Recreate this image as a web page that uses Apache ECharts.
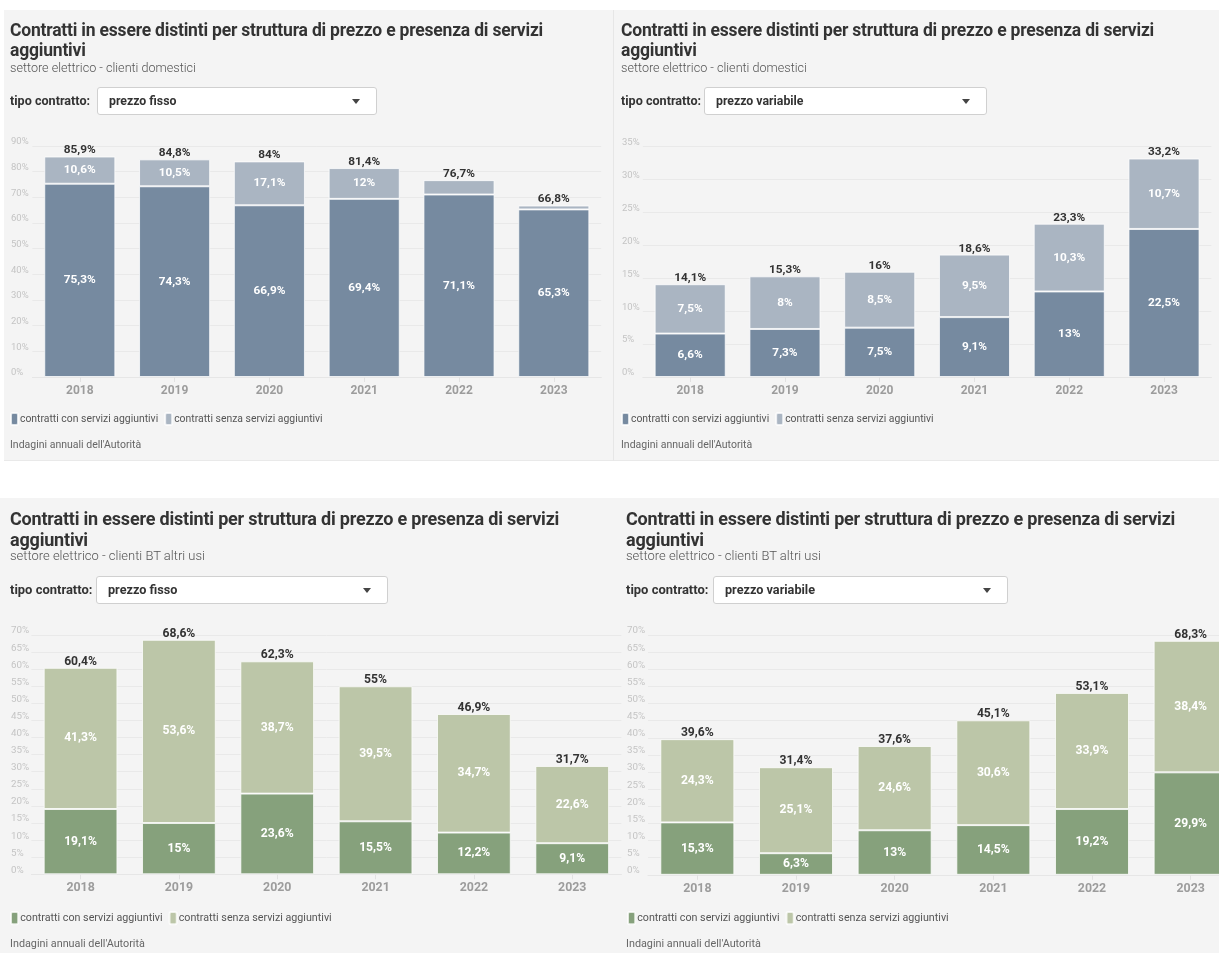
<!DOCTYPE html>
<html lang="it">
<head>
<meta charset="utf-8">
<title>Contratti in essere distinti per struttura di prezzo e presenza di servizi aggiuntivi</title>
<script src="https://cdn.jsdelivr.net/npm/echarts@6/dist/echarts.min.js"></script>
<style>
  html, body { margin: 0; padding: 0; background: #ffffff; }
  body { width: 1219px; height: 953px; overflow: hidden; position: relative;
         font-family: Roboto, "Noto Sans", sans-serif; color: #333; }
  .row-bg { position: absolute; background: #f4f4f4; }
  .panel { position: absolute; background: #f4f4f4; overflow: hidden; }
  .panel .chart { position: absolute; left: 0; top: 0; width: 100%; height: 100%; }
  .title, .sub, .ctrl-lab, .sel, .src { position: absolute; white-space: nowrap; }
  .title { font-weight: 700; color: #333; letter-spacing: -0.2px; }
  .sub { color: #555; font-weight: 300; }
  .ctrl-lab { font-weight: 700; color: #333; }
  .sel { background: #ffffff; border: 1px solid #d0d0d0; border-radius: 3px; box-sizing: border-box;
         font-weight: 700; color: #333; }
  .sel .caret { position: absolute; width: 0; height: 0; border-left: 4px solid transparent;
                border-right: 4px solid transparent; border-top: 5px solid #444; }
  .src { color: #666; }
</style>
</head>
<body>
<div class="row-bg" style="left:0;top:498px;width:1219px;height:455px;"></div>
<div id="panels"></div>
<script>
// Anni di rilevazione
const years = ['2018', '2019', '2020', '2021', '2022', '2023'];

// Clienti domestici - prezzo fisso (% dei contratti)
const domFissoCon   = [75.3, 74.3, 66.9, 69.4, 71.1, 65.3];
const domFissoSenza = [10.6, 10.5, 17.1, 12.0, 5.6, 1.5];

// Clienti domestici - prezzo variabile
const domVarCon   = [6.6, 7.3, 7.5, 9.1, 13.0, 22.5];
const domVarSenza = [7.5, 8.0, 8.5, 9.5, 10.3, 10.7];

// Clienti BT altri usi - prezzo fisso
const btFissoCon   = [19.1, 15.0, 23.6, 15.5, 12.2, 9.1];
const btFissoSenza = [41.3, 53.6, 38.7, 39.5, 34.7, 22.6];

// Clienti BT altri usi - prezzo variabile
const btVarCon   = [15.3, 6.3, 13.0, 14.5, 19.2, 29.9];
const btVarSenza = [24.3, 25.1, 24.6, 30.6, 33.9, 38.4];

const serieNames = ['contratti con servizi aggiuntivi', 'contratti senza servizi aggiuntivi'];
const titleText = 'Contratti in essere distinti per struttura di prezzo e presenza di servizi';
const titleText2 = 'aggiuntivi';
const fonte = "Indagini annuali dell'Autorità";

const blue = ['#768aa0', '#aab5c2'];
const green = ['#86a17c', '#bcc6a8'];

const panels = [
  { x: 4, y: 10, w: 609, h: 450, sub: 'settore elettrico - clienti domestici', tipo: 'prezzo fisso',
    con: domFissoCon, senza: domFissoSenza, max: 90, interval: 10, colors: blue,
    plot: { left: 28.4, top: 136, width: 568.8, height: 231 },
    pad: 6, fs: 1, titleTop: 10, subC: 58, ctrlC: 91, selL: 93, selW: 280, legC: 408, legL: 6, srcC: 435 },
  { x: 614, y: 10, w: 605, h: 450, sub: 'settore elettrico - clienti domestici', tipo: 'prezzo variabile',
    con: domVarCon, senza: domVarSenza, max: 35, interval: 5, colors: blue,
    plot: { left: 28.8, top: 136.7, width: 568.6, height: 230.3 },
    pad: 7, fs: 1, titleTop: 10, subC: 58, ctrlC: 91, selL: 90, selW: 283, legC: 408, legL: 7, srcC: 435 },
  { x: 0, y: 498, w: 622, h: 455, sub: 'settore elettrico - clienti BT altri usi', tipo: 'prezzo fisso',
    con: btFissoCon, senza: btFissoSenza, max: 70, interval: 5, colors: green,
    plot: { left: 31.4, top: 137, width: 590, height: 239.3 },
    pad: 10, fs: 1.03, titleTop: 11, subC: 58, ctrlC: 92, selL: 96, selW: 292, legC: 419, legL: 10, srcC: 446 },
  { x: 616, y: 498, w: 640, h: 455, sub: 'settore elettrico - clienti BT altri usi', tipo: 'prezzo variabile',
    con: btVarCon, senza: btVarSenza, max: 70, interval: 5, colors: green,
    plot: { left: 32, top: 137, width: 592, height: 239.8 },
    pad: 10, fs: 1.03, titleTop: 11, subC: 58, ctrlC: 92, selL: 97, selW: 295, legC: 419, legL: 11, srcC: 446 }
];

function fmt(v) {
  return String(Math.round(v * 10) / 10).replace('.', ',') + '%';
}

function addText(parent, cls, text, css) {
  const el = document.createElement('div');
  el.className = cls;
  el.textContent = text;
  Object.assign(el.style, css);
  parent.appendChild(el);
  return el;
}

const host = document.getElementById('panels');

panels.forEach(function (p) {
  const box = document.createElement('div');
  box.className = 'panel';
  Object.assign(box.style, { left: p.x + 'px', top: p.y + 'px', width: p.w + 'px', height: p.h + 'px' });
  if (p.y < 100 && p.x < 100) box.style.borderRight = '1px solid #e6e6e6';
  if (p.y < 100) box.style.borderBottom = '1px solid #e9e9e9';
  if (p.y > 100) box.style.background = 'transparent';
  host.appendChild(box);

  const chartDiv = document.createElement('div');
  chartDiv.className = 'chart';
  box.appendChild(chartDiv);

  const f = p.fs;
  const t = addText(box, 'title', '', {
    left: p.pad + 'px', top: p.titleTop + 'px', fontSize: (17.5 * f) + 'px', lineHeight: (20 * f) + 'px'
  });
  t.innerHTML = titleText + '<br>' + titleText2;
  addText(box, 'sub', p.sub, {
    left: p.pad + 'px', top: (p.subC - 8) + 'px', fontSize: (12.6 * f) + 'px', lineHeight: '16px'
  });
  addText(box, 'ctrl-lab', 'tipo contratto:', {
    left: p.pad + 'px', top: (p.ctrlC - 8) + 'px', fontSize: (12.6 * f) + 'px', lineHeight: '16px'
  });
  const sel = addText(box, 'sel', p.tipo, {
    left: p.selL + 'px', top: (p.ctrlC - 14) + 'px', width: p.selW + 'px', height: '28px',
    fontSize: (12.3 * f) + 'px', lineHeight: '26px', paddingLeft: '11px'
  });
  const caret = document.createElement('span');
  caret.className = 'caret';
  Object.assign(caret.style, { right: '16px', top: '11px' });
  sel.appendChild(caret);
  addText(box, 'src', fonte, {
    left: p.pad + 'px', top: (p.srcC - 8) + 'px', fontSize: (10.5 * f) + 'px', lineHeight: '16px'
  });

  const totals = p.con.map(function (v, i) { return v + p.senza[i]; });
  const minPx = 18;
  const segLabel = function (arr) {
    return arr.map(function (v) {
      return {
        value: v,
        label: { show: v / p.max * p.plot.height >= minPx }
      };
    });
  };

  const chart = echarts.init(chartDiv, null, { renderer: 'canvas' });
  const font = 'Roboto, "Noto Sans", sans-serif';
  chart.setOption({
    animation: false,
    backgroundColor: 'transparent',
    textStyle: { fontFamily: font },
    grid: {
      left: p.plot.left, top: p.plot.top, width: p.plot.width, height: p.plot.height,
      containLabel: false, outerBoundsMode: 'none'
    },
    legend: {
      data: serieNames,
      left: p.legL, top: p.legC - 6, padding: 0,
      icon: 'roundRect', itemWidth: 7 * f, itemHeight: 12 * f, itemGap: 6,
      textStyle: { fontFamily: font, fontSize: 10.4 * f, color: '#555', padding: [0, 0, 0, -3] },
      selectedMode: false
    },
    xAxis: {
      type: 'category',
      data: years,
      axisLine: { show: true, lineStyle: { color: '#e6e6e6', width: 1 } },
      axisTick: { show: true, alignWithLabel: true, length: 5, lineStyle: { color: '#e2e2e2' } },
      axisLabel: { fontFamily: font, fontSize: 12 * f, fontWeight: 700, color: '#9c9c9c', margin: 8 },
      splitLine: { show: false }
    },
    yAxis: {
      type: 'value',
      min: 0, max: p.max, interval: p.interval,
      axisLine: { show: false },
      axisTick: { show: false },
      axisLabel: {
        fontFamily: font, fontSize: 9.5 * f, color: '#c4c4c4',
        formatter: '{value}%', align: 'left', verticalAlign: 'bottom',
        margin: p.plot.left - p.pad - 1, padding: [0, 0, -1, 0]
      },
      splitLine: { show: true, lineStyle: { color: '#e9e9e9', width: 1 } }
    },
    series: [
      {
        name: serieNames[0], type: 'bar', stack: 'tot', barCategoryGap: '25%',
        data: segLabel(p.con),
        itemStyle: { color: p.colors[0], borderColor: 'rgba(255,255,255,0.75)', borderWidth: 1 },
        label: {
          position: 'inside', color: '#ffffff', fontFamily: font, fontWeight: 700, fontSize: 11.8 * f,
          formatter: function (d) { return fmt(d.value); }
        },
        emphasis: { disabled: true }
      },
      {
        name: serieNames[1], type: 'bar', stack: 'tot', barCategoryGap: '25%',
        data: segLabel(p.senza),
        itemStyle: { color: p.colors[1], borderColor: 'rgba(255,255,255,0.75)', borderWidth: 1 },
        label: {
          position: 'inside', color: '#ffffff', fontFamily: font, fontWeight: 700, fontSize: 11.8 * f,
          formatter: function (d) { return fmt(d.value); }
        },
        emphasis: { disabled: true }
      },
      {
        name: 'totale', type: 'bar', barGap: '-100%', barCategoryGap: '25%',
        data: totals, silent: true, z: 1,
        itemStyle: { color: 'rgba(0,0,0,0)' },
        label: {
          show: true, position: 'top', distance: 0, color: '#333', fontFamily: font,
          fontWeight: 700, fontSize: 11.8 * f,
          formatter: function (d) { return fmt(d.value); }
        },
        emphasis: { disabled: true }
      }
    ]
  });
});
</script>
</body>
</html>
